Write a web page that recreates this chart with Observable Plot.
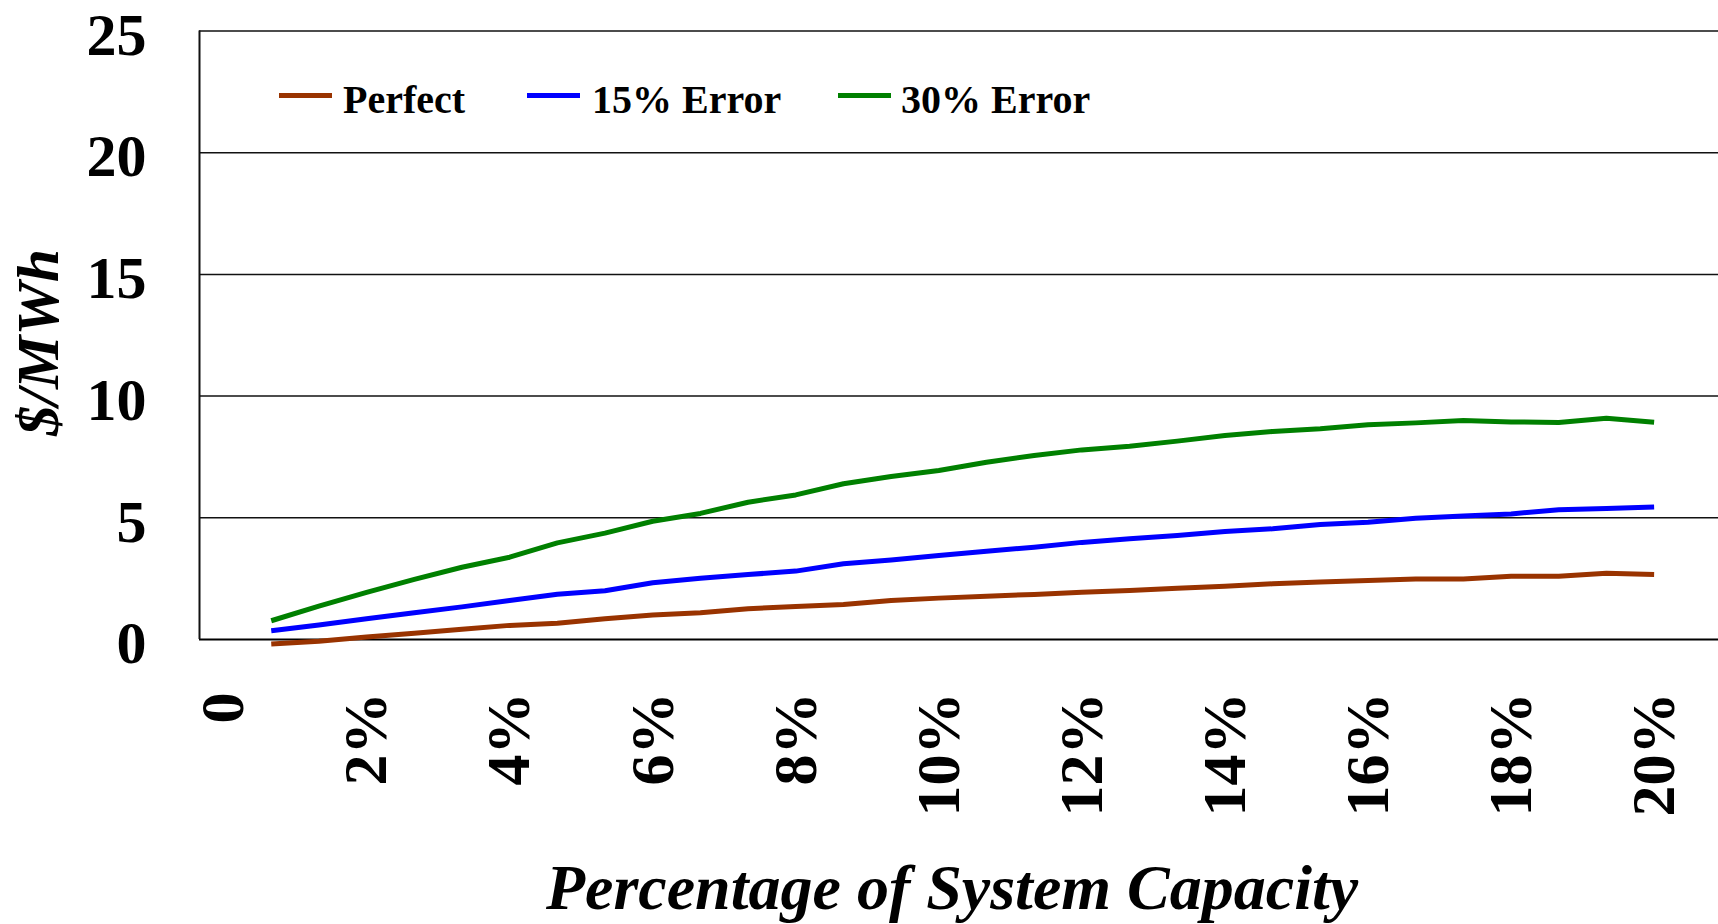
<!DOCTYPE html>
<html>
<head>
<meta charset="utf-8">
<script src="https://cdn.jsdelivr.net/npm/d3@7"></script>
<script src="https://cdn.jsdelivr.net/npm/@observablehq/plot@0.6"></script>
<style>
  body { margin: 0; background: #fff; }
  #wrap { position: relative; width: 1718px; height: 924px; overflow: hidden; background: #fff; }
  #legend { position: absolute; left: 0; top: 0; }
</style>
</head>
<body>
<div id="wrap"></div>
<script>
// ---- Data ----
const capacity = [0.667, 1.333, 2, 2.667, 3.333, 4, 4.667, 5.333, 6, 6.667,
                  7.333, 8, 8.667, 9.333, 10, 10.667, 11.333, 12, 12.667, 13.333,
                  14, 14.667, 15.333, 16, 16.667, 17.333, 18, 18.667, 19.333, 20];
const perfect = [-0.18, -0.07, 0.10, 0.26, 0.42, 0.58, 0.67, 0.85, 1.01, 1.10,
                 1.26, 1.36, 1.44, 1.60, 1.70, 1.78, 1.85, 1.94, 2.01, 2.11,
                 2.19, 2.29, 2.36, 2.42, 2.49, 2.49, 2.60, 2.60, 2.72, 2.67];
const error15 = [0.36, 0.60, 0.85, 1.10, 1.34, 1.60, 1.86, 2.00, 2.33, 2.52,
                 2.67, 2.81, 3.11, 3.27, 3.45, 3.63, 3.79, 3.99, 4.14, 4.27,
                 4.44, 4.55, 4.72, 4.82, 4.98, 5.07, 5.16, 5.33, 5.38, 5.44];
const error30 = [0.77, 1.37, 1.94, 2.47, 2.97, 3.38, 3.97, 4.37, 4.86, 5.18,
                 5.64, 5.94, 6.40, 6.70, 6.94, 7.28, 7.56, 7.79, 7.94, 8.15,
                 8.38, 8.55, 8.66, 8.82, 8.90, 9.00, 8.94, 8.92, 9.09, 8.93];
const seriesNames = ["Perfect", "15% Error", "30% Error"];
const seriesColors = ["#993300", "#0000ff", "#008000"];
const yTicks = [0, 5, 10, 15, 20, 25];
const xTicks = [0, 2, 4, 6, 8, 10, 12, 14, 16, 18, 20];
const xTickLabels = ["0", "2%", "4%", "6%", "8%", "10%", "12%", "14%", "16%", "18%", "20%"];
const xTitle = "Percentage of System Capacity";
const yTitle = "$/MWh";

const seriesValues = [perfect, error15, error30];
const rows = [];
seriesNames.forEach((name, s) => {
  capacity.forEach((c, i) => rows.push({series: name, x: c, y: seriesValues[s][i]}));
});

const xDomain = [-0.336, 20.9];
const font = "'Liberation Serif', 'Times New Roman', Times, serif";

const chart = Plot.plot({
  width: 1718,
  height: 924,
  marginLeft: 199,
  marginRight: 0,
  marginTop: 30.5,
  marginBottom: 285,
  style: {fontFamily: font, background: "#fff", color: "#000", overflow: "visible"},
  x: {domain: xDomain},
  y: {domain: [0, 25]},
  color: {domain: seriesNames, range: seriesColors},
  marks: [
    Plot.gridY(yTicks.filter(d => d > 0), {stroke: "#111", strokeOpacity: 1, strokeWidth: 1.5}),
    Plot.ruleY([0], {stroke: "#000", strokeWidth: 2}),
    Plot.ruleX([xDomain[0]], {y1: 0, y2: 25, stroke: "#111", strokeWidth: 2}),
    Plot.line(rows, {x: "x", y: "y", z: "series", stroke: "series", strokeWidth: 5,
                     strokeLinejoin: "round", strokeLinecap: "butt"}),
    Plot.axisY({ticks: yTicks, tickSize: 0, tickPadding: 53, fontSize: 60, fontWeight: "bold",
                dy: 4.5, label: null, tickFormat: d => String(d)}),
    Plot.axisX({ticks: xTicks, tickSize: 0, tickPadding: 53, tickRotate: -90,
                textAnchor: "end", lineAnchor: "middle", fontSize: 62, fontWeight: "bold",
                label: null, tickFormat: d => xTickLabels[xTicks.indexOf(d)]}),
    Plot.text([xTitle], {frameAnchor: "bottom", dy: 249, dx: -7, fontSize: 64,
                         fontWeight: "bold", fontStyle: "italic", lineAnchor: "middle",
                         textAnchor: "middle"}),
    Plot.text([yTitle], {frameAnchor: "left", dx: -161, dy: 7, rotate: -90, fontSize: 60,
                         fontWeight: "bold", fontStyle: "italic", lineAnchor: "middle",
                         textAnchor: "middle"})
  ]
});

const wrap = document.getElementById("wrap");
wrap.appendChild(chart);

// Legend (inside plot area, top-left)
const legendSwatchX = [279, 527, 838];
const legendTextX = [343, 592, 901];
const leg = d3.select(wrap).append("svg")
  .attr("id", "legend").attr("width", 1718).attr("height", 140)
  .style("font-family", font);
seriesNames.forEach((name, i) => {
  leg.append("line")
    .attr("x1", legendSwatchX[i]).attr("x2", legendSwatchX[i] + 53)
    .attr("y1", 95.5).attr("y2", 95.5)
    .attr("stroke", seriesColors[i]).attr("stroke-width", 5);
  leg.append("text")
    .attr("x", legendTextX[i]).attr("y", 113)
    .attr("font-size", 40).attr("font-weight", "bold")
    .text(name);
});
</script>
</body>
</html>
